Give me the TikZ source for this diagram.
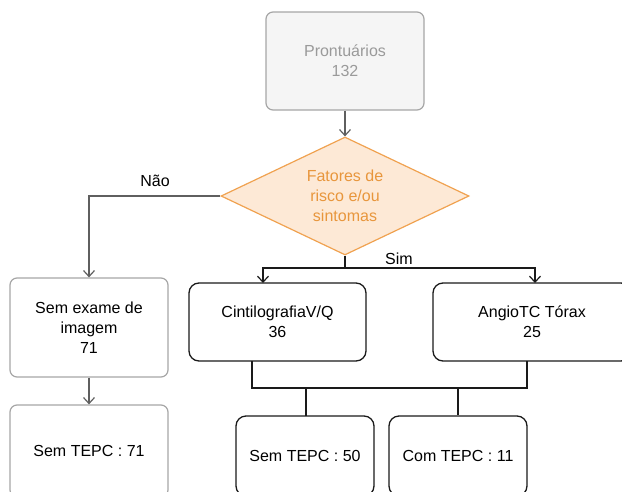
\documentclass[tikz,border=0pt]{standalone}
\usepackage{fontspec}
\setmainfont{Liberation Sans}
\usetikzlibrary{shapes.geometric,arrows.meta}
\definecolor{grayline}{HTML}{5F5F5F}
\definecolor{grayborder}{HTML}{A6A6A6}
\definecolor{graytext}{HTML}{9A9A9A}
\definecolor{grayfill}{HTML}{F5F5F5}
\definecolor{orangeline}{HTML}{F0A250}
\definecolor{orangefill}{HTML}{FDE9D6}
\definecolor{orangetext}{HTML}{E8963C}
\definecolor{darkline}{HTML}{1A1A1A}
\tikzset{
  x=1pt, y=-1pt,
  every node/.style={font=\fontsize{16}{20}\selectfont, align=center, inner sep=0pt},
  tip/.style={-{Straight Barb[length=6pt,width=11pt,line width=1.2pt]}},
  graybox/.style={draw=grayborder, line width=1.2pt, rounded corners=7pt, fill=white},
  blackbox/.style={draw=darkline, line width=1.3pt, rounded corners=10pt, fill=white},
  grayconn/.style={draw=grayline, line width=1.2pt},
  blackconn/.style={draw=darkline, line width=1.3pt},
}
\begin{document}
\begin{tikzpicture}
\useasboundingbox (0,0) rectangle (622,491);
\clip (0,0) rectangle (622,491);

% start box
\node[graybox, fill=grayfill, text=graytext, minimum width=158pt, minimum height=98pt]
  (pront) at (345,61) {Prontuários\\132};

% decision
\node[diamond, draw=orangeline, fill=orangefill, text=orangetext, line width=1.2pt,
      minimum width=248pt, minimum height=118pt, aspect=2.1]
  (fat) at (345,196) {Fatores de\\risco e/ou\\sintomas};

% left branch
\node[graybox, minimum width=158pt, minimum height=99pt]
  (semex) at (89,327.5) {Sem exame de\\imagem\\71};
\node[graybox, minimum width=158pt, minimum height=92pt]
  (sem71) at (89,451) {Sem TEPC : 71};

% right branch
\node[blackbox, minimum width=177pt, minimum height=78pt]
  (cint) at (277.5,322) {CintilografiaV/Q\\36};
\node[blackbox, minimum width=198pt, minimum height=78pt]
  (angio) at (532,322) {AngioTC Tórax\\25};
\node[blackbox, minimum width=138pt, minimum height=80pt]
  (sem50) at (305,456) {Sem TEPC : 50};
\node[blackbox, minimum width=138pt, minimum height=80pt]
  (com11) at (458,456) {Com TEPC : 11};

% junction points
\coordinate (simj) at (345,268);
\coordinate (merge) at (252,388);

% connectors
\draw[grayconn, tip] (pront.south) -- (fat.north);
\draw[grayconn, tip] (fat.west) -| (semex.north);
\draw[grayconn, tip] (semex.south) -- (sem71.north);
\node at (155,181) {Não};

\draw[blackconn] (fat.south) -- (simj);
\draw[blackconn, tip] (simj) -| (263,283);
\draw[blackconn, tip] (simj) -| (535,283);
\node at (399,259) {Sim};

\draw[blackconn] (252,361) |- (527,388) -- (527,361);
\draw[blackconn] (306,388) -- (306,416);
\draw[blackconn] (458,388) -- (com11.north);
\end{tikzpicture}
\end{document}
